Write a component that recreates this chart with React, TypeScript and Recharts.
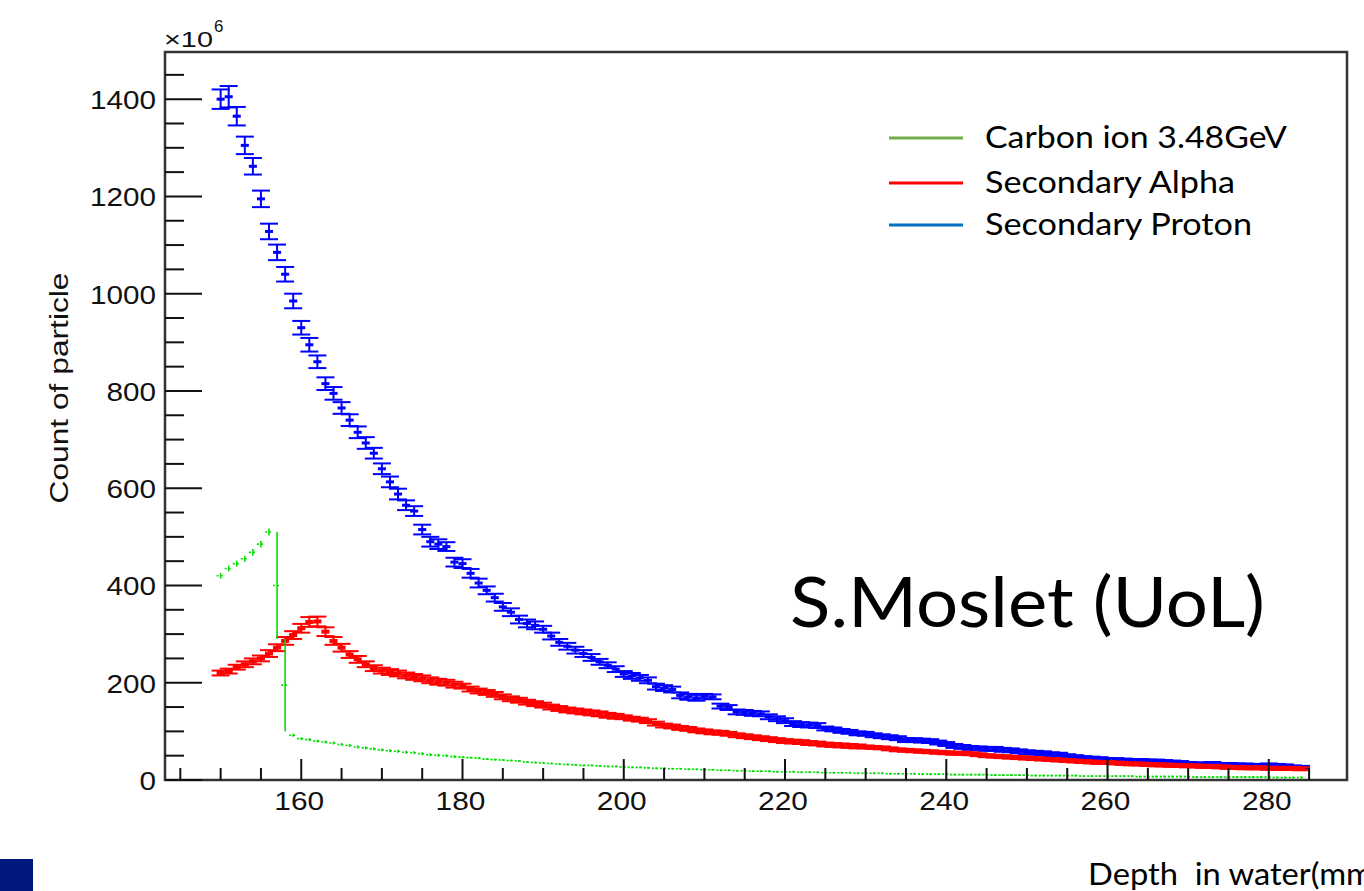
import React from 'react';
import { ComposedChart, Scatter, XAxis, YAxis, ErrorBar, ReferenceArea } from 'recharts';

// 1 mm depth bins, first bin centred on 150 mm
const FIRST_BIN_MM = 150;
const BIN_HALF_WIDTH = 0.5;

// counts in units of 10^6, one value per bin (150 .. 284 mm)
const PROTON = [
  1400, 1405, 1365, 1305, 1262, 1195, 1128, 1085, 1040, 985,
  930, 895, 860, 815, 795, 765, 740, 715, 693, 672,
  640, 613, 588, 565, 553, 515, 490, 485, 480, 448,
  445, 425, 405, 390, 375, 356, 345, 330, 322, 318,
  310, 296, 283, 275, 267, 260, 252, 243, 236, 228,
  218, 214, 210, 205, 192, 189, 186, 174, 171, 169,
  172, 171, 152, 149, 140, 139, 137, 136, 130, 126,
  122, 116, 114, 113, 112, 106, 104, 101, 99, 96,
  95, 92, 90, 88, 86, 82, 82, 81, 80, 77,
  74, 70, 68, 66, 65, 64, 64, 62, 61, 59,
  57, 56, 55, 53, 52, 50, 48, 46, 45, 44,
  42, 42, 41, 40, 40, 39, 39, 38, 37, 36,
  34, 33, 33, 34, 32, 32, 31, 31, 30, 30,
  31, 30, 29, 27, 26,
];
const PROTON_ERR = [
  20, 22, 19, 18, 17, 17, 16, 16, 15, 15,
  14, 14, 13, 13, 13, 12, 12, 12, 12, 11,
  11, 11, 11, 10, 10, 10, 10, 10, 9, 9,
  9, 9, 9, 8, 8, 8, 8, 8, 8, 8,
  7, 7, 7, 7, 7, 7, 7, 6, 6, 6,
  6, 6, 6, 6, 6, 6, 6, 6, 6, 6,
  5, 5, 5, 5, 5, 5, 5, 5, 5, 5,
  5, 5, 5, 5, 5, 4, 4, 4, 4, 4,
  4, 4, 4, 4, 4, 4, 4, 4, 4, 4,
  4, 4, 4, 4, 4, 4, 4, 4, 4, 4,
  4, 4, 4, 4, 4, 3, 3, 3, 3, 3,
  3, 3, 3, 3, 3, 3, 3, 3, 3, 3,
  3, 3, 3, 3, 3, 3, 3, 3, 3, 3,
  3, 3, 3, 3, 3,
];

const ALPHA = [
  220, 224, 232, 238, 244, 250, 260, 272, 286, 298,
  312, 325, 326, 305, 286, 272, 258, 248, 238, 230,
  225, 222, 219, 215, 212, 209, 205, 202, 200, 196,
  193, 187, 183, 180, 176, 171, 167, 164, 160, 157,
  154, 150, 147, 144, 142, 140, 138, 136, 133, 131,
  129, 126, 124, 121, 116, 112, 110, 107, 105, 102,
  100, 98, 97, 95, 92, 90, 88, 86, 84, 82,
  80, 79, 78, 76, 75, 73, 72, 71, 70, 69,
  68, 67, 66, 64, 62, 61, 60, 59, 58, 57,
  56, 55, 55, 54, 52, 50, 49, 48, 47, 46,
  45, 44, 43, 42, 41, 40, 39, 38, 37, 36,
  36, 35, 34, 33, 33, 32, 31, 31, 30, 30,
  29, 29, 28, 28, 27, 26, 26, 25, 25, 25,
  24, 24, 24, 24, 23,
];
const ALPHA_ERR = [
  5, 5, 5, 6, 6, 6, 7, 7, 8, 8,
  9, 10, 10, 9, 8, 8, 7, 7, 6, 6,
  6, 6, 6, 6, 6, 6, 6, 6, 6, 6,
  5, 5, 5, 5, 5, 5, 5, 5, 5, 5,
  5, 5, 5, 5, 5, 5, 5, 5, 5, 5,
  4, 4, 4, 4, 4, 4, 4, 4, 4, 4,
  4, 4, 4, 4, 4, 4, 4, 4, 4, 4,
  4, 4, 4, 4, 4, 4, 4, 4, 4, 4,
  3, 3, 3, 3, 3, 3, 3, 3, 3, 3,
  3, 3, 3, 3, 3, 3, 3, 3, 3, 3,
  3, 3, 3, 3, 3, 3, 3, 3, 3, 3,
  3, 3, 3, 3, 3, 3, 3, 3, 3, 3,
  3, 3, 3, 3, 3, 3, 3, 3, 3, 3,
  3, 3, 3, 3, 3,
];

const CARBON = [
  420, 435, 445, 455, 468, 485, 510, 400, 195, 92,
  85, 83, 80, 78, 76, 73, 71, 68, 66, 64,
  62, 60, 59, 57, 56, 54, 52, 51, 50, 48,
  47, 46, 45, 43, 42, 41, 40, 39, 37, 36,
  35, 34, 33, 32, 31, 30, 30, 29, 28, 28,
  27, 26, 26, 25, 24, 24, 23, 23, 22, 22,
  21, 21, 20, 20, 19, 19, 18, 18, 18, 17,
  17, 17, 16, 16, 16, 15, 15, 15, 15, 14,
  14, 14, 14, 13, 13, 13, 13, 12, 12, 12,
  12, 11, 11, 11, 11, 11, 10, 10, 10, 10,
  10, 9, 9, 9, 9, 9, 9, 8, 8, 8,
  8, 8, 8, 8, 7, 7, 7, 7, 7, 7,
  7, 6, 6, 6, 6, 6, 6, 6, 6, 6,
  6, 5, 5, 5, 5,
];
const CARBON_ERR = [
  6, 6, 6, 6, 7, 7, 7, 110, 95, 3,
  3, 3, 3, 3, 3, 3, 3, 3, 3, 3,
  3, 3, 3, 3, 3, 3, 3, 3, 3, 3,
  2, 2, 2, 2, 2, 2, 2, 2, 2, 2,
  2, 2, 2, 2, 2, 2, 2, 2, 2, 2,
  2, 2, 2, 2, 2, 2, 2, 2, 2, 2,
  2, 2, 2, 2, 2, 2, 2, 2, 2, 2,
  2, 2, 2, 2, 2, 2, 2, 2, 2, 2,
  2, 2, 2, 2, 2, 2, 2, 2, 2, 2,
  2, 2, 2, 2, 2, 2, 2, 2, 2, 2,
  2, 2, 2, 2, 2, 2, 2, 2, 2, 2,
  2, 2, 2, 2, 2, 2, 2, 2, 2, 2,
  2, 2, 2, 2, 2, 2, 2, 2, 2, 2,
  2, 2, 2, 2, 2,
];

const X_TICKS = [145, 150, 155, 160, 165, 170, 175, 180, 185, 190, 195, 200, 205, 210, 215, 220, 225, 230, 235, 240, 245, 250, 255, 260, 265, 270, 275, 280, 285];
const X_LABELS = [160, 180, 200, 220, 240, 260, 280];
const Y_TICKS = [0, 50, 100, 150, 200, 250, 300, 350, 400, 450, 500, 550, 600, 650, 700, 750, 800, 850, 900, 950, 1000, 1050, 1100, 1150, 1200, 1250, 1300, 1350, 1400, 1450];
const Y_LABELS = [0, 200, 400, 600, 800, 1000, 1200, 1400];

const X_DOMAIN: [number, number] = [143.1, 289.7];
const Y_DOMAIN: [number, number] = [0, 1497];

const toRows = (vals: number[], errs: number[]) =>
  vals.map((v, i) => ({ depth: FIRST_BIN_MM + i, count: v, err: errs[i], hw: BIN_HALF_WIDTH }));

const protonRows = toRows(PROTON, PROTON_ERR);
const alphaRows = toRows(ALPHA, ALPHA_ERR);
const carbonRows = toRows(CARBON, CARBON_ERR);

const AXIS_FONT = '"Liberation Sans", Arial, Helvetica, sans-serif';
const NOTE_FONT = 'Lato, "Open Sans", sans-serif';

// ROOT style: ticks point into the frame, labels only on the major ones
const XTick = (props: any) => {
  const { x, y, payload } = props;
  const major = X_LABELS.includes(payload.value);
  const s = String(payload.value);
  return (
    <g>
      <line x1={x} y1={y} x2={x} y2={y - (major ? 21 : 12)} stroke="#111" strokeWidth={2} />
      {major && (
        <text x={x - 2} y={y + 30} textAnchor="middle" fontSize={26} fontFamily={AXIS_FONT} fill="#111"
          textLength={s.length * 16.6} lengthAdjust="spacingAndGlyphs">{s}</text>
      )}
    </g>
  );
};

const YTick = (props: any) => {
  const { x, y, payload } = props;
  const major = Y_LABELS.includes(payload.value);
  const s = String(payload.value);
  return (
    <g>
      <line x1={x} y1={y} x2={x + (major ? 37 : 19)} y2={y} stroke="#111" strokeWidth={2} />
      {major && (
        <text x={x - 9} y={y + 10} textAnchor="end" fontSize={26} fontFamily={AXIS_FONT} fill="#111"
          textLength={s.length * 16.5} lengthAdjust="spacingAndGlyphs">{s}</text>
      )}
    </g>
  );
};

const NoMarker = () => <g />;

const LEGEND = [
  { label: 'Carbon ion 3.48GeV', color: '#70AD47', y: 138, len: 302 },
  { label: 'Secondary Alpha', color: '#FF0000', y: 183, len: 250 },
  { label: 'Secondary Proton', color: '#0070C0', y: 225, len: 267 },
];

export default function App() {
  return (
    <div style={{ position: 'absolute', left: 0, top: 0, width: 1364, height: 891, background: '#fff', overflow: 'hidden' }}>
      <ComposedChart width={1364} height={891} margin={{ top: 52, right: 17, bottom: 0, left: 0 }}>
        <XAxis type="number" dataKey="depth" domain={X_DOMAIN} allowDataOverflow ticks={X_TICKS} interval={0}
          height={111} axisLine={false} tickLine={false} tickSize={0} tickMargin={0} tick={<XTick />} />
        <YAxis type="number" dataKey="count" domain={Y_DOMAIN} allowDataOverflow ticks={Y_TICKS} interval={0}
          width={165} axisLine={false} tickLine={false} tickSize={0} tickMargin={0} tick={<YTick />} />
        <ReferenceArea x1={X_DOMAIN[0]} x2={X_DOMAIN[1]} y1={Y_DOMAIN[0]} y2={Y_DOMAIN[1]}
          fill="none" fillOpacity={0} stroke="#333" strokeWidth={2.5} />
        <Scatter data={protonRows} dataKey="count" shape={NoMarker} isAnimationActive={false}>
          <ErrorBar dataKey="hw" direction="x" width={0} stroke="#0000FF" strokeWidth={3} isAnimationActive={false} />
          <ErrorBar dataKey="err" direction="y" width={9} stroke="#0000FF" strokeWidth={2} isAnimationActive={false} />
        </Scatter>
        <Scatter data={alphaRows} dataKey="count" shape={NoMarker} isAnimationActive={false}>
          <ErrorBar dataKey="hw" direction="x" width={0} stroke="#FF0000" strokeWidth={4} isAnimationActive={false} />
          <ErrorBar dataKey="err" direction="y" width={9} stroke="#FF0000" strokeWidth={2} isAnimationActive={false} />
        </Scatter>
        <Scatter data={carbonRows} dataKey="count" shape={NoMarker} isAnimationActive={false}>
          <ErrorBar dataKey="hw" direction="x" width={0} stroke="#00E000" strokeWidth={1.6} strokeDasharray="2 2" isAnimationActive={false} />
          <ErrorBar dataKey="err" direction="y" width={0} stroke="#00E000" strokeWidth={1.6} isAnimationActive={false} />
        </Scatter>
      </ComposedChart>

      <svg width={1364} height={891} style={{ position: 'absolute', left: 0, top: 0, pointerEvents: 'none' }}>
        <text x={164} y={47} fontSize={22} fontFamily={AXIS_FONT} fill="#111" textLength={49} lengthAdjust="spacingAndGlyphs">×10</text>
        <text x={214} y={32} fontSize={17} fontFamily={AXIS_FONT} fill="#111">6</text>
        <text transform="rotate(-90, 68, 388)" x={68} y={388} textAnchor="middle" fontSize={25} fontFamily={AXIS_FONT}
          fill="#111" textLength={231} lengthAdjust="spacingAndGlyphs">Count of particle</text>

        {LEGEND.map((d) => (
          <g key={d.label}>
            <line x1={889} y1={d.y} x2={963} y2={d.y} stroke={d.color} strokeWidth={3} />
            <text x={985} y={d.y + 10} fontSize={31} fontFamily={NOTE_FONT} fill="#000"
              textLength={d.len} lengthAdjust="spacingAndGlyphs">{d.label}</text>
          </g>
        ))}

        <text x={790} y={627} fontSize={70} fontFamily={NOTE_FONT} fill="#000" textLength={475} lengthAdjust="spacingAndGlyphs">S.Moslet (UoL)</text>
        <text x={1088} y={885} fontSize={30} fontFamily={NOTE_FONT} fill="#000" style={{ whiteSpace: 'pre' }}
          textLength={285} lengthAdjust="spacingAndGlyphs">Depth  in water(mm</text>
        <rect x={0} y={859} width={33} height={32} fill="#00187E" />
      </svg>
    </div>
  );
}
